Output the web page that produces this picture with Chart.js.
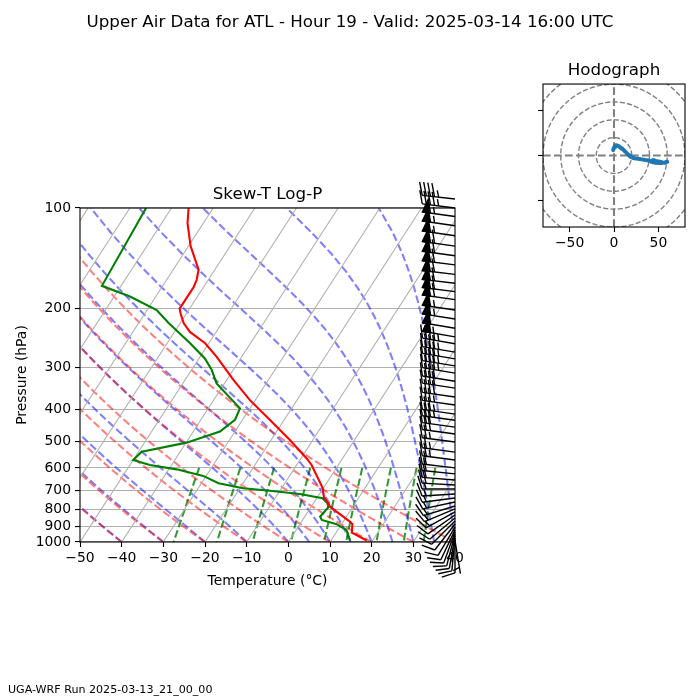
<!DOCTYPE html>
<html><head><meta charset="utf-8">
<script src="https://cdn.jsdelivr.net/npm/chart.js@4.4.1/dist/chart.umd.min.js"></script>
<style>
html,body{margin:0;padding:0;background:#fff;}
#wrap{position:relative;width:700px;height:700px;font-family:'DejaVu Sans',sans-serif;color:#000;}
#skew{position:absolute;left:0;top:0;}
#hodo{position:absolute;left:500px;top:40px;}
#sup{position:absolute;left:0;top:11px;width:700px;text-align:center;font-size:16.7px;line-height:20px;}
#foot{position:absolute;left:8px;top:683px;font-size:11.1px;line-height:14px;}
</style></head><body>
<div id="wrap">
<canvas id="skew" width="700" height="700"></canvas>
<canvas id="hodo" width="200" height="220"></canvas>
<div id="sup">Upper Air Data for ATL - Hour 19 - Valid: 2025-03-14 16:00 UTC</div>
<div id="foot">UGA-WRF Run 2025-03-13_21_00_00</div>
</div>
<script>
// ---------------- data ----------------
const tempP = [990, 938, 884, 869, 784, 766, 735, 690, 588, 562, 495, 431, 376, 327, 279, 254, 235, 221, 207, 200, 172, 164, 153, 130, 111, 100];
const tempC = [18.6, 13.8, 12.6, 11.6, 4.5, 3.6, 1.6, -0.1, -6.4, -8.6, -15.5, -23.4, -31.3, -38.4, -46.0, -50.9, -56.3, -59.2, -61.4, -62.4, -62.4, -62.8, -63.9, -69.5, -73.8, -75.9];
const dewP = [990, 921, 884, 859, 840, 787, 766, 740, 718, 702, 690, 667, 634, 606, 588, 568, 537, 504, 467, 431, 398, 335, 305, 282, 254, 221, 202, 184, 171, 100];
const dewC = [14.6, 12.1, 8.8, 4.6, 3.7, 4.2, 3.4, 1.4, -4.7, -12.4, -19.2, -25.9, -30.7, -38.1, -45.2, -50.0, -49.2, -39.9, -33.6, -31.8, -32.4, -41.9, -45.2, -48.6, -54.5, -62.8, -67.7, -76.2, -84.6, -86.1];

const windP = [993, 986, 973, 959, 946, 933, 920, 902, 883, 865, 848, 830, 813, 796, 780, 759, 738, 718, 694, 675, 652, 625, 600, 568, 538, 502, 475, 453, 432, 414, 389, 368, 346, 330, 312, 297, 283, 270, 255, 243, 229, 215, 202, 188, 178, 168, 158, 148, 139, 130, 121, 113, 106, 100, 94];
const windU = [-1, 0, 1, 2, 3, 4, 5, 6, 7, 8, 9, 10, 11, 12, 13, 14, 15, 16, 17, 18, 19, 20, 21, 23, 25, 27, 29, 31, 33, 35, 37, 39, 40, 41, 42, 43, 44, 45, 46, 47, 51, 53, 55, 57, 58, 59, 60, 59, 58, 57, 56, 55, 54, 47, 44];
const windV = [6, 9, 10.5, 11.5, 11.5, 11, 10.5, 10, 9, 8, 7.5, 7, 6, 5, 4, 3, 2, 1, 0, -1, -1.5, -2, -2.5, -3, -3.3, -3.5, -4, -4.3, -4.6, -5, -5.3, -5.6, -6, -6.5, -7, -7, -7.5, -7.5, -8, -8, -8.5, -8.5, -8, -8, -7.5, -7, -7, -7.5, -8, -8, -8, -8, -7.5, -6, -5];

const tempTicks = [-50, -40, -30, -20, -10, 0, 10, 20, 30, 40];
const pressureTicks = [100, 200, 300, 400, 500, 600, 700, 800, 900, 1000];
const hodoTicks = [-50, 0, 50];
const isothermT = [-100, -90, -80, -70, -60, -50, -40, -30, -20, -10, 0, 10, 20, 30, 40];
const dryT0 = [-50, -40, -30, -20, -10, 0, 10, 20, 30, 40];
const moistT0 = [-50, -40, -30, -20, -10, 0, 5, 10, 15, 20, 25, 30, 35, 40];
const mixRatios = [0.0004, 0.001, 0.002, 0.004, 0.007, 0.01, 0.016, 0.024, 0.032];
const ringRadii = [20, 40, 60, 80, 100];

// ---------------- configuration ----------------
const X_MIN = -50, X_MAX = 40, P_BOT = 1000, P_TOP = 100, HODO_RANGE = 80;
const SKEW = Math.tan(30 * Math.PI / 180) * (X_MAX - X_MIN) / Math.log10(P_BOT / P_TOP);
const FONT = 'DejaVu Sans';
Chart.defaults.font.family = FONT;
Chart.defaults.color = '#000';

function skewX(t, p) { return t + SKEW * Math.log10(P_BOT / p); }
const NLEV = 50;
const pLevels = Array.from({length: NLEV}, (_, i) => P_BOT + (P_TOP - P_BOT) * i / (NLEV - 1));
const pMix = Array.from({length: NLEV}, (_, i) => 600 + (P_BOT - 600) * i / (NLEV - 1));

const Rd = 287.04749, Cpd = 1004.6662, Lv = 2.50084e6, EPS = 0.6219569, KAPPA = Rd / Cpd;
function satMix(p, T) { const es = 6.112 * Math.exp(17.67 * (T - 273.15) / (T - 29.65)); return EPS * es / (p - es); }
function dTdp(p, T) {
  const rs = satMix(p, T);
  const frac = (Rd * T + Lv * rs) / (Cpd + (Lv * Lv * rs * EPS) / (Rd * T * T));
  return frac / p;
}
function moistProfile(t0) {
  let T = t0 + 273.15, p = P_BOT;
  return pLevels.map(pt => {
    const n = 12, h = (pt - p) / n;
    for (let k = 0; k < n; k++) {
      const k1 = dTdp(p, T), k2 = dTdp(p + h / 2, T + h / 2 * k1), k3 = dTdp(p + h / 2, T + h / 2 * k2), k4 = dTdp(p + h, T + h * k3);
      T += h / 6 * (k1 + 2 * k2 + 2 * k3 + k4); p += h;
    }
    p = pt;
    return {x: skewX(T - 273.15, pt), y: pt};
  });
}
function dryProfile(t0) { return pLevels.map(p => ({x: skewX((t0 + 273.15) * Math.pow(p / P_BOT, KAPPA) - 273.15, p), y: p})); }
function mixProfile(w) {
  return pMix.map(p => { const e = p * w / (EPS + w); const l = Math.log(e / 6.112); return {x: skewX(243.5 * l / (17.67 - l), p), y: p}; });
}
function lineDS(data, color, width, dash, order) {
  return {data, showLine: true, borderColor: color, borderWidth: width, borderDash: dash, pointRadius: 0, fill: false, tension: 0, order, borderCapStyle: 'butt'};
}
const DASH = [7.7, 3.3];
const skewDatasets = [];
skewDatasets.push(lineDS(tempP.map((p, i) => ({x: skewX(tempC[i], p), y: p})), '#ff0000', 2.1, [], 0));
skewDatasets.push(lineDS(dewP.map((p, i) => ({x: skewX(dewC[i], p), y: p})), '#008000', 2.1, [], 0));
isothermT.forEach(t => skewDatasets.push(lineDS([{x: skewX(t, P_BOT), y: P_BOT}, {x: skewX(t, P_TOP), y: P_TOP}], '#b0b0b0', 1.1, [], 1)));
dryT0.forEach(t => skewDatasets.push(lineDS(dryProfile(t), 'rgba(255,0,0,0.5)', 2.08, DASH, 2)));
moistT0.forEach(t => skewDatasets.push(lineDS(moistProfile(t), 'rgba(0,0,255,0.5)', 2.08, DASH, 2)));
mixRatios.forEach(w => skewDatasets.push(lineDS(mixProfile(w), 'rgba(0,128,0,0.8)', 2.08, DASH, 2)));

const framePlugin = {
  id: 'frame',
  afterDatasetsDraw(chart) {
    const a = chart.chartArea, ctx = chart.ctx;
    ctx.save(); ctx.strokeStyle = '#000'; ctx.lineWidth = 1.1;
    ctx.strokeRect(a.left, a.top, a.right - a.left, a.bottom - a.top);
    ctx.restore();
  }
};

const barbPlugin = {
  id: 'barbs',
  afterDraw(chart) {
    const ctx = chart.ctx, ys = chart.scales.y, bx = chart.chartArea.right;
    const L = 33, fh = 0.4 * L, fw = 0.25 * L, sp = 0.125 * L;
    ctx.save();
    ctx.strokeStyle = '#000'; ctx.fillStyle = '#000'; ctx.lineWidth = 1.4; ctx.lineJoin = 'miter';
    windP.forEach((p, i) => {
      const u = windU[i], v = windV[i], s = Math.hypot(u, v);
      const by = ys.getPixelForValue(p);
      const mag = 5 * Math.round(s / 5);
      if (mag === 0) { ctx.beginPath(); ctx.arc(bx, by, 0.15 * L, 0, 2 * Math.PI); ctx.stroke(); return; }
      const dx = -u / s, dy = v / s, fx = -dy, fy = dx;
      const P = (lx, ly) => [bx + ly * dx + lx * fx, by + ly * dy + lx * fy];
      const nflags = Math.floor(mag / 50);
      const rem = mag - 50 * nflags;
      const nbarbs = Math.floor(rem / 10);
      const half = (rem - 10 * nbarbs) >= 5;
      ctx.beginPath(); ctx.moveTo(...P(0, 0)); ctx.lineTo(...P(0, L)); ctx.stroke();
      let off = L;
      for (let k = 0; k < nflags; k++) {
        if (off !== L) off += sp / 2;
        ctx.beginPath(); ctx.moveTo(...P(0, off)); ctx.lineTo(...P(fh, off - fw / 2)); ctx.lineTo(...P(0, off - fw)); ctx.closePath();
        ctx.fill(); ctx.stroke();
        off -= fw + sp;
      }
      for (let k = 0; k < nbarbs; k++) {
        ctx.beginPath(); ctx.moveTo(...P(0, off)); ctx.lineTo(...P(fh, off + fw / 2)); ctx.stroke();
        off -= sp;
      }
      if (half) {
        if (off === L) off -= 1.5 * sp;
        ctx.beginPath(); ctx.moveTo(...P(0, off)); ctx.lineTo(...P(fh / 2, off + fw / 4)); ctx.stroke();
      }
    });
    ctx.restore();
  }
};

new Chart(document.getElementById('skew'), {
  type: 'scatter',
  data: {datasets: skewDatasets},
  options: {
    responsive: false, animation: false, devicePixelRatio: 1,
    layout: {padding: {top: 185, right: 245, bottom: 108, left: 10}},
    plugins: {
      legend: {display: false}, tooltip: {enabled: false},
      title: {display: true, text: 'Skew-T Log-P', fullSize: false, color: '#000', font: {family: FONT, size: 16.7, weight: 'normal'}, padding: {top: 0, bottom: 3}}
    },
    scales: {
      x: {
        type: 'linear', min: X_MIN, max: X_MAX,
        afterBuildTicks: s => { s.ticks = tempTicks.map(v => ({value: v})); },
        afterFit: s => { s.height = 50; },
        ticks: {font: {size: 13.9}, padding: 3, maxRotation: 0, autoSkip: false, callback: v => (v < 0 ? '\u2212' + Math.abs(v) : String(v))},
        grid: {drawOnChartArea: false, tickLength: 5, tickColor: '#000', tickWidth: 1.1},
        border: {display: false},
        title: {display: true, text: 'Temperature (\u00b0C)', font: {size: 13.9}, padding: {top: 4, bottom: 2}}
      },
      y: {
        type: 'logarithmic', min: P_TOP, max: P_BOT, reverse: true,
        afterBuildTicks: s => { s.ticks = pressureTicks.map(v => ({value: v})); },
        afterFit: s => { s.width = 70; },
        ticks: {font: {size: 13.9}, padding: 4, autoSkip: false, callback: v => String(v)},
        grid: {color: '#b0b0b0', lineWidth: 1.1, tickLength: 5, tickColor: '#000', tickWidth: 1.1},
        border: {display: false},
        title: {display: true, text: 'Pressure (hPa)', font: {size: 13.9}, padding: {top: 4, bottom: 4}}
      }
    }
  },
  plugins: [framePlugin, barbPlugin]
});

// ---------------- hodograph ----------------
const hodoDatasets = [];
hodoDatasets.push(Object.assign(lineDS(windU.map((u, i) => ({x: u, y: windV[i]})), '#1f77b4', 4, [], 0), {borderJoinStyle: 'round', borderCapStyle: 'round'}));
ringRadii.forEach(r => hodoDatasets.push(lineDS(Array.from({length: 121}, (_, k) => ({x: r * Math.cos(k * Math.PI / 60), y: r * Math.sin(k * Math.PI / 60)})), '#808080', 1.4, [5.1, 2.2], 1)));
hodoDatasets.push(lineDS([{x: 0, y: -HODO_RANGE}, {x: 0, y: HODO_RANGE}], '#808080', 2.08, DASH, 1));
hodoDatasets.push(lineDS([{x: -HODO_RANGE, y: 0}, {x: HODO_RANGE, y: 0}], '#808080', 2.08, DASH, 1));

new Chart(document.getElementById('hodo'), {
  type: 'scatter',
  data: {datasets: hodoDatasets},
  options: {
    responsive: false, animation: false, devicePixelRatio: 1,
    layout: {padding: {top: 21, right: 15, bottom: 8, left: 0}},
    plugins: {
      legend: {display: false}, tooltip: {enabled: false},
      title: {display: true, text: 'Hodograph', fullSize: false, color: '#000', font: {family: FONT, size: 16.7, weight: 'normal'}, padding: {top: 0, bottom: 3}}
    },
    scales: {
      x: {
        type: 'linear', min: -HODO_RANGE, max: HODO_RANGE,
        afterBuildTicks: s => { s.ticks = hodoTicks.map(v => ({value: v})); },
        afterFit: s => { s.height = 25; },
        ticks: {font: {size: 13.9}, padding: 3, maxRotation: 0, autoSkip: false, callback: v => (v < 0 ? '\u2212' + Math.abs(v) : String(v))},
        grid: {drawOnChartArea: false, tickLength: 5, tickColor: '#000', tickWidth: 1.1},
        border: {display: false}
      },
      y: {
        type: 'linear', min: -HODO_RANGE, max: HODO_RANGE,
        afterBuildTicks: s => { s.ticks = hodoTicks.map(v => ({value: v})); },
        afterFit: s => { s.width = 43; },
        ticks: {font: {size: 13.9}, padding: 3, autoSkip: false, callback: () => ''},
        grid: {drawOnChartArea: false, tickLength: 5, tickColor: '#000', tickWidth: 1.1},
        border: {display: false}
      }
    }
  },
  plugins: [framePlugin]
});
</script>
</body></html>
